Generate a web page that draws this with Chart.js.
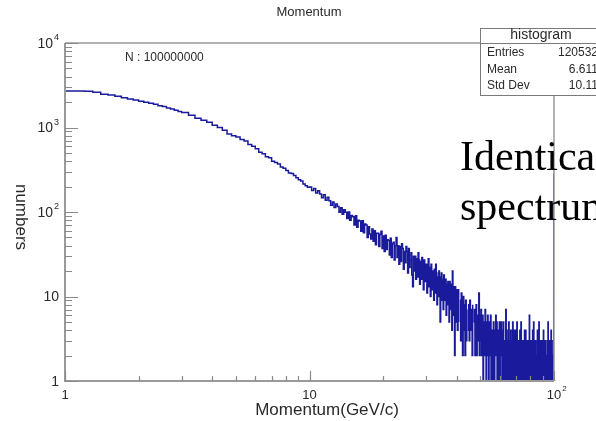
<!DOCTYPE html>
<html>
<head>
<meta charset="utf-8">
<script src="https://cdn.jsdelivr.net/npm/chart.js@4.4.1/dist/chart.umd.min.js"></script>
<style>
  html, body { margin: 0; padding: 0; background: #fff; }
  #wrap { width: 596px; height: 421px; position: relative; overflow: hidden; }
</style>
</head>
<body>
<div id="wrap"><canvas id="momChart" width="596" height="421"></canvas></div>
<script>
// Histogram bins: each block has its own start momentum and bin width (GeV/c)
const lowStart = 1, lowStep = 0.1;
const lowCounts = [2700, 2705, 2690, 2610, 2480, 2430, 2340, 2250, 2170, 2120,
  2050, 1990, 1930, 1880, 1810, 1770, 1700, 1660, 1600, 1550];

const midStart = 3, midStep = 0.2;
const midCounts = [1500, 1400, 1290, 1220, 1150, 1060, 1000, 930, 840, 800,
  770, 720, 690, 630, 600, 560, 510, 490, 450, 440,
  400, 385, 370, 340, 330, 310, 290, 285, 270, 255,
  240, 232, 215, 205, 196];

const highStart = 10, highStep = 0.2;
const highCounts = [
  198, 180, 190, 168, 178,  163, 147, 160, 138, 149,
  136, 120, 131, 113, 124,  116, 99, 112, 94, 106,
  99, 84, 100, 80, 91,      88, 70, 90, 66, 80,
  78, 59, 79, 57, 72,       70, 50, 67, 55, 48,
  63, 45, 60, 41, 56,       56, 39, 54, 59, 37,
  52, 34, 53, 36, 47,       46, 31, 49, 29, 42,
  44, 27, 40, 50, 29,       40, 24, 39, 26, 42,
  37, 21, 34, 25, 39,       34, 19, 37, 22, 27,
  33, 18, 13, 30, 20,       30, 16, 28, 17, 33,
  27, 14, 26, 16, 29,       25, 12, 27, 15, 23,
  24, 11, 22, 28, 13,       22, 10, 24, 12, 19,
  20, 9, 21, 11, 24,        19, 8, 17, 10, 20,
  17, 5, 15, 19, 9,         16, 7, 18, 9, 14,
  16, 6, 14, 8, 15,         13, 5, 15, 7, 14,
  12, 4, 20, 6, 13,         11, 2, 13, 5, 12];

const tailStart = 40, tailStep = 0.25;
const tailCounts = [
  11, 4, 12, 5, 0, 9, 3, 11,   7, 2, 10, 4, 8, 2, 9, 3,
  7, 0, 8, 4, 3, 9, 4, 7,      6, 2, 8, 0, 5, 7, 2, 6,
  8, 2, 6, 3, 4, 11, 2, 6,     3, 7, 2, 5, 6, 1, 5, 3,
  2, 7, 3, 1, 5, 2, 6, 3,      1, 5, 2, 4, 6, 1, 4, 2,
  3, 1, 5, 2, 1, 4, 2, 6,      2, 5, 1, 3, 4, 1, 2, 5,
  1, 4, 2, 5, 3, 1, 4, 1,      5, 2, 1, 3, 1, 3, 7, 1,
  4, 1, 2, 3, 1, 5, 2, 1,      3, 1, 4, 3, 1, 2, 1, 5,
  3, 1, 4, 1, 2, 4, 1, 2,      1, 3, 5, 1, 3, 1, 2, 1,
  3, 1, 4, 2, 1, 5, 1, 3,      2, 1, 3, 1, 1, 3, 1, 4,
  2, 1, 4, 1, 1, 3, 1, 2,      3, 1, 2, 1, 1, 6, 1, 3,
  3, 1, 2, 1, 1, 3, 1, 4,      2, 1, 5, 1, 1, 2, 1, 3,
  3, 1, 2, 1, 1, 2, 4, 1,      2, 1, 1, 5, 1, 3, 1, 3,
  2, 1, 3, 1, 1, 3, 1, 2,      2, 1, 4, 1, 1, 3, 1, 2,
  3, 1, 2, 1, 1, 2, 1, 3,      2, 1, 5, 1, 1, 3, 1, 2,
  2, 1, 3, 1, 1, 4, 1, 2,      3, 1, 2, 1, 1, 2, 1, 280];

const xMin = 1, xMax = 100;
const yMin = 1, yMax = 10000;
const xTickLabels = [[1, '1'], [10, '10'], [100, '10^2']];
const yTickLabels = [[1, '1'], [10, '10'], [100, '10^2'], [1000, '10^3'], [10000, '10^4']];

const titleText = 'Momentum';
const xTitle = 'Momentum(GeV/c)';
const yTitle = 'numbers';
const noteText = 'N : 100000000';
const statsTitle = 'histogram';
const statsNames = ['Entries', 'Mean', 'Std Dev'];
const statsValues = ['120532', '6.611', '10.11'];
const overlayLines = ['Identical', 'spectrum'];

// turn the blocks into step points at the lower bin edges
function binPoints() {
  const pts = [];
  const blocks = [[lowStart, lowStep, lowCounts], [midStart, midStep, midCounts],
    [highStart, highStep, highCounts], [tailStart, tailStep, tailCounts]];
  blocks.forEach(([start, step, counts]) => {
    counts.forEach((c, i) => pts.push({ x: start + i * step, y: c }));
  });
  pts.push({ x: xMax, y: tailCounts[tailCounts.length - 1] });
  return pts;
}

const SANS = '"Liberation Sans", Arial, Helvetica, sans-serif';

// draws "10^n" with a raised exponent
function powText(ctx, label, x, y, align, size) {
  const [base, exp] = label.split('^');
  ctx.font = size + 'px ' + SANS;
  const wb = ctx.measureText(base).width;
  let we = 0;
  if (exp) {
    ctx.font = Math.round(size * 0.65) + 'px ' + SANS;
    we = ctx.measureText(exp).width + 1;
  }
  const w = wb + we;
  let left = x;
  if (align === 'right') left = x - w;
  else if (align === 'center') left = x - wb / 2;
  ctx.textAlign = 'left';
  ctx.textBaseline = 'middle';
  ctx.font = size + 'px ' + SANS;
  ctx.fillText(base, left, y);
  if (exp) {
    ctx.font = Math.round(size * 0.65) + 'px ' + SANS;
    ctx.fillText(exp, left + wb + 1, y - size * 0.45);
  }
}

const rootFrame = {
  id: 'rootFrame',
  afterDatasetsDraw(chart) {
    const { ctx, chartArea: a, scales: { x, y } } = chart;
    ctx.save();
    ctx.fillStyle = '#2a2a2a';

    // frame and axes
    ctx.strokeStyle = '#9a9a9a';
    ctx.lineWidth = 1.5;
    ctx.beginPath();
    ctx.moveTo(a.left, a.top);
    ctx.lineTo(480, a.top);
    ctx.moveTo(a.right, 95);
    ctx.lineTo(a.right, a.bottom);
    ctx.stroke();
    ctx.lineWidth = 2;
    ctx.beginPath();
    ctx.moveTo(a.left, a.top);
    ctx.lineTo(a.left, a.bottom);
    ctx.lineTo(a.right, a.bottom);
    ctx.stroke();

    // y ticks, drawn inward
    ctx.lineWidth = 1.2;
    ctx.strokeStyle = '#8a8a8a';
    ctx.beginPath();
    for (let d = yMin; d <= yMax; d *= 10) {
      for (let k = 1; k <= 9; k++) {
        const v = d * k;
        if (v > yMax) break;
        const py = Math.round(y.getPixelForValue(v)) + 0.5;
        const len = k === 1 ? 13 : 7;
        ctx.moveTo(a.left, py);
        ctx.lineTo(a.left + len, py);
      }
    }
    // x ticks, drawn upward
    for (let d = xMin; d <= xMax; d *= 10) {
      for (let k = 1; k <= 9; k++) {
        const v = d * k;
        if (v > xMax) break;
        const px = Math.round(x.getPixelForValue(v)) + 0.5;
        const len = k === 1 ? 10 : 5;
        ctx.moveTo(px, a.bottom);
        ctx.lineTo(px, a.bottom - len);
      }
    }
    ctx.stroke();

    // tick labels
    yTickLabels.forEach(([v, t]) => powText(ctx, t, 59, y.getPixelForValue(v) + 1, 'right', 14));
    xTickLabels.forEach(([v, t]) => powText(ctx, t, x.getPixelForValue(v), 395, 'center', 13));

    // titles
    ctx.textAlign = 'center';
    ctx.textBaseline = 'middle';
    ctx.font = '13px ' + SANS;
    ctx.fillText(titleText, 309, 12);
    ctx.font = '17px ' + SANS;
    ctx.fillText(xTitle, 327, 410);
    ctx.save();
    ctx.translate(21, 217);
    ctx.rotate(Math.PI / 2);
    ctx.fillText(yTitle, 0, 0);
    ctx.restore();

    ctx.textAlign = 'left';
    ctx.font = '12px ' + SANS;
    ctx.fillText(noteText, 125, 58);

    // stats box
    ctx.fillStyle = '#fff';
    ctx.fillRect(480, 28, 130, 67);
    ctx.strokeStyle = '#7a7a7a';
    ctx.lineWidth = 1;
    ctx.strokeRect(480.5, 28.5, 130, 67);
    ctx.beginPath();
    ctx.moveTo(480, 43.5);
    ctx.lineTo(596, 43.5);
    ctx.stroke();
    ctx.fillStyle = '#2a2a2a';
    ctx.textAlign = 'center';
    ctx.font = '14px ' + SANS;
    ctx.fillText(statsTitle, 541, 35);
    ctx.font = '12px ' + SANS;
    statsNames.forEach((n, i) => {
      const ry = 53 + i * 16.5;
      ctx.textAlign = 'left';
      ctx.fillText(n, 487, ry);
      ctx.textAlign = 'right';
      ctx.fillText(statsValues[i], 598, ry);
    });

    // large serif caption over the plot
    ctx.fillStyle = '#000';
    ctx.textAlign = 'left';
    ctx.textBaseline = 'alphabetic';
    ctx.font = '42px "Liberation Serif", "Times New Roman", serif';
    ctx.fillText(overlayLines[0], 460, 170);
    ctx.fillText(overlayLines[1], 460, 220);
    ctx.restore();
  }
};

new Chart(document.getElementById('momChart'), {
  type: 'line',
  data: {
    datasets: [{
      label: 'histogram',
      data: binPoints(),
      stepped: 'before',
      borderColor: '#1a1a9c',
      borderWidth: 1.5,
      pointRadius: 0,
      fill: false
    }]
  },
  options: {
    responsive: false,
    animation: false,
    devicePixelRatio: 1,
    layout: { padding: { left: 65, right: 42, top: 43, bottom: 40 } },
    scales: {
      x: { type: 'logarithmic', min: xMin, max: xMax, display: false },
      y: { type: 'logarithmic', min: yMin, max: yMax, display: false }
    },
    plugins: {
      legend: { display: false },
      tooltip: { enabled: false }
    }
  },
  plugins: [rootFrame]
});
</script>
</body>
</html>
